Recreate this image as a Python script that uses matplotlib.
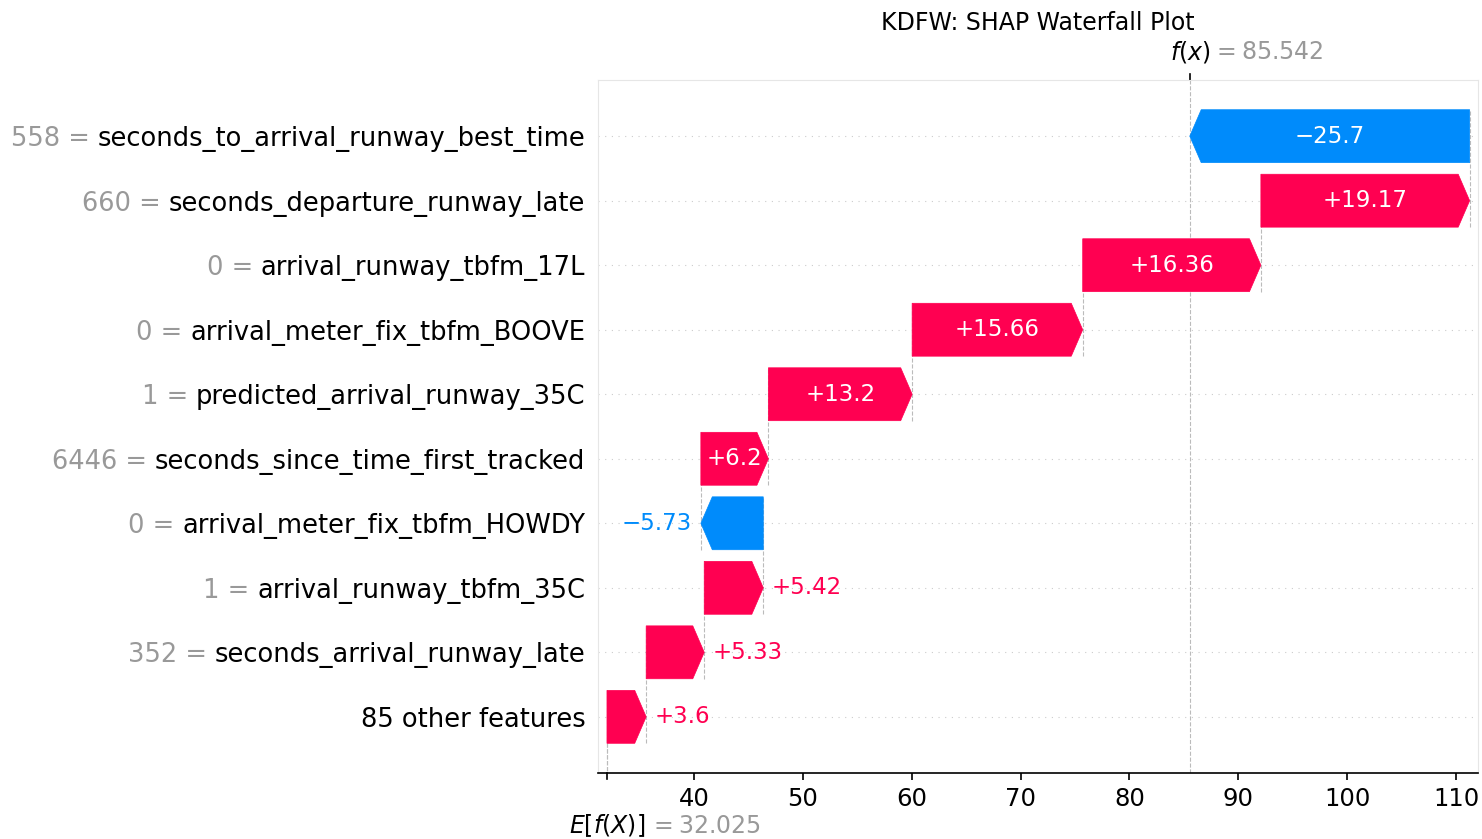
import matplotlib
matplotlib.use("Agg")
import matplotlib.pyplot as plt
from matplotlib.patches import Polygon
import matplotlib.transforms as mtransforms

# SHAP values, top row first
feature_names = [
    "seconds_to_arrival_runway_best_time",
    "seconds_departure_runway_late",
    "arrival_runway_tbfm_17L",
    "arrival_meter_fix_tbfm_BOOVE",
    "predicted_arrival_runway_35C",
    "seconds_since_time_first_tracked",
    "arrival_meter_fix_tbfm_HOWDY",
    "arrival_runway_tbfm_35C",
    "seconds_arrival_runway_late",
    "85 other features",
]
feature_values = ["558", "660", "0", "0", "1", "6446", "0", "1", "352", None]
shap_values = [-25.7, 19.17, 16.36, 15.66, 13.2, 6.2, -5.73, 5.42, 5.33, 3.6]
bar_labels = ["\u221225.7", "+19.17", "+16.36", "+15.66", "+13.2",
              "+6.2", "\u22125.73", "+5.42", "+5.33", "+3.6"]
base_value = 32.025
fx_value = 85.542

RED = "#ff0051"
BLUE = "#008bfb"
GRAY = "#999999"

fig = plt.figure(figsize=(14.82, 8.39), dpi=100)
ax = fig.add_axes([0.4035, 0.0787, 0.5938, 0.8259])

n = len(shap_values)
ax.set_xlim(31.2, 112.0)
ax.set_ylim(n - 1 + 0.87, -0.87)

bar_h = 0.82
head = 1.05

# walk from the bottom (base value) up to f(x)
left = base_value
starts = [0.0] * n
for i in range(n - 1, -1, -1):
    starts[i] = left
    left = left + shap_values[i]

for i in range(n):
    s = starts[i]
    v = shap_values[i]
    e = s + v
    y = i
    color = RED if v > 0 else BLUE
    d = 1 if v > 0 else -1
    hl = min(head, abs(v))
    pts = [(s, y - bar_h / 2), (e - d * hl, y - bar_h / 2), (e, y),
           (e - d * hl, y + bar_h / 2), (s, y + bar_h / 2)]
    ax.add_patch(Polygon(pts, closed=True, facecolor=color,
                         edgecolor=color, lw=0.5, zorder=3))

    # connector to the next row above
    if i > 0:
        ax.plot([e, e], [y + bar_h / 2, y - 1 - bar_h / 2], color="#bbbbbb",
                ls="--", lw=0.8, zorder=1)

    # grid line
    ax.axhline(y, color="#cccccc", lw=0.8, dashes=(1, 5), zorder=0)

    # label inside or outside
    if abs(v) > 6:
        ax.text((s + e) / 2, y, bar_labels[i], ha="center", va="center",
                color="white", fontsize=16.5, zorder=4)
    else:
        if v > 0:
            ax.text(e + 0.8, y, bar_labels[i], ha="left", va="center",
                    color=color, fontsize=16.5, zorder=4)
        else:
            ax.text(e - 0.8, y, bar_labels[i], ha="right", va="center",
                    color=color, fontsize=16.5, zorder=4)

# vertical lines at base and f(x)
ax.axvline(fx_value, color="#bbbbbb", ls="--", lw=0.8, zorder=1)
ax.plot([base_value, base_value], [n - 1 + bar_h / 2, n - 1 + 0.87],
        color="#bbbbbb", ls="--", lw=0.8, zorder=1)
ax.plot([starts[n - 1], starts[n - 1]], [n - 1 - bar_h / 2, n - 1 + 0.87],
        color="#bbbbbb", ls="--", lw=0.8, zorder=1)

# y tick labels: feature names in black, values in gray drawn to the left
ax.set_yticks(list(range(n)))
ax.set_yticklabels(feature_names, fontsize=18.5)
ax.tick_params(axis="y", length=0, pad=9)

ax.set_xticks([40, 50, 60, 70, 80, 90, 100, 110])
ax.tick_params(axis="x", labelsize=17.5, length=5, width=1.2, pad=5)

for sp in ["left", "top", "right"]:
    ax.spines[sp].set_color("#e6e6e6")
ax.spines["bottom"].set_linewidth(1.2)

fig.canvas.draw()
renderer = fig.canvas.get_renderer()
ytrans = mtransforms.blended_transform_factory(fig.transFigure, ax.transData)
W = fig.bbox.width
for k, lab in enumerate(ax.get_yticklabels()):
    if feature_values[k] is None:
        continue
    bb = lab.get_window_extent(renderer)
    fig.text((bb.x0 - 8) / W, k, feature_values[k] + " =", transform=ytrans,
             ha="right", va="center_baseline", fontsize=18.5, color=GRAY)

# base value tick and label
trans = mtransforms.blended_transform_factory(ax.transData, ax.transAxes)
ax.plot([base_value, base_value], [0, -0.008], transform=trans, color="black",
        lw=1.2, clip_on=False)
ax.text(base_value, -0.0765, "$E[f(X)]$", transform=trans, ha="center",
        va="center", fontsize=17)
ax.text(base_value + 3.9, -0.0765, "$ = 32.025$", transform=trans, ha="left",
        va="center", fontsize=17, color=GRAY)

# f(x) tick and label
ax.plot([fx_value, fx_value], [1.0, 1.008], transform=trans, color="black",
        lw=1.2, clip_on=False)
ax.text(fx_value, 1.0404, "$f(x)$", transform=trans, ha="center",
        va="center", fontsize=17)
ax.text(fx_value + 2.05, 1.0404, "$ = 85.542$", transform=trans, ha="left",
        va="center", fontsize=17, color=GRAY)

fig.text(0.7004, 0.973, "KDFW: SHAP Waterfall Plot", ha="center",
         va="center", fontsize=17)

fig.savefig("out.png", dpi=100)
